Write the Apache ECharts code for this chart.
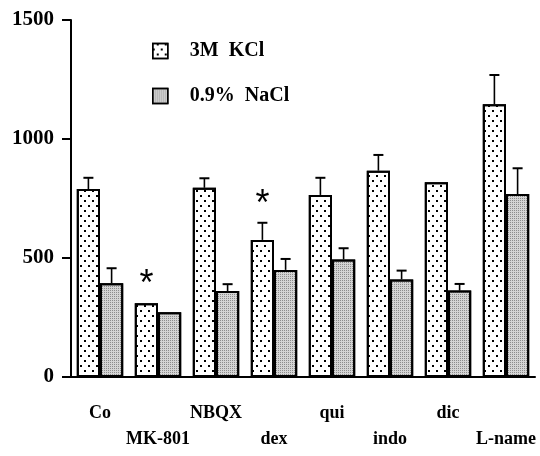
<!DOCTYPE html>
<html>
<head>
<meta charset="utf-8">
<title>KCl vs NaCl</title>
<script src="https://cdn.jsdelivr.net/npm/echarts@6/dist/echarts.min.js"></script>
<style>
html, body { margin: 0; padding: 0; background: #fff; }
#main { width: 540px; height: 456px; }
</style>
</head>
<body>
<div id="main"></div>
<script>
// data
var categories = ['Co', 'MK-801', 'NBQX', 'dex', 'qui', 'indo', 'dic', 'L-name'];
var kclValues  = [790, 310, 795, 576, 765, 867, 818, 1146];
var kclErrTop  = [837, null, 835, 648, 837, 933, null, 1269];
var naclValues = [394, 272, 361, 450, 494, 410, 363, 769];
var naclErrTop = [457, null, 390, 496, 541, 447, 391, 877];
var starAt     = [[1, 385], [3, 722]];   // significance marks over KCl bars
var yTicks     = [0, 500, 1000, 1500];

var serif = 'Liberation Serif';
var BAR_FRAC = 0.4;

function errData(vals, tops) {
  var out = [];
  for (var i = 0; i < vals.length; i++) {
    if (tops[i] != null) out.push([i, vals[i], tops[i]]);
  }
  return out;
}

// side: -1 = left bar (KCl), +1 = right bar (NaCl)
function errRenderer(side) {
  return function (params, api) {
    var band = api.size([1, 0])[0];
    var off = side * band * BAR_FRAC / 2;
    var p0 = api.coord([api.value(0), api.value(1)]);
    var p1 = api.coord([api.value(0), api.value(2)]);
    var x = p0[0] + off;
    return {
      type: 'group',
      children: [
        { type: 'line', shape: { x1: x, y1: p0[1], x2: x, y2: p1[1] },
          style: { stroke: '#000', lineWidth: 1.6 } },
        { type: 'line', shape: { x1: x - 5, y1: p1[1], x2: x + 5, y2: p1[1] },
          style: { stroke: '#000', lineWidth: 2 } }
      ]
    };
  };
}

// y-axis tick marks (the built-in ones did not show up in this setup)
function yTickRenderer(params, api) {
  var band = api.size([1, 0])[0];
  var p = api.coord([0, api.value(1)]);
  var xAxisPos = p[0] - band / 2;
  return {
    type: 'line',
    shape: { x1: xAxisPos - 9, y1: p[1], x2: xAxisPos, y2: p[1] },
    style: { stroke: '#000', lineWidth: 2 }
  };
}

var chart = echarts.init(document.getElementById('main'));

var option = {
  animation: false,
  grid: { left: 71, right: 5, top: 20, bottom: 79 },
  legend: {
    orient: 'vertical',
    left: 147, top: 36,
    icon: 'rect',
    itemWidth: 15, itemHeight: 15,
    itemGap: 25,
    data: ['3M  KCl', '0.9%  NaCl'],
    itemStyle: { borderColor: '#000', borderWidth: 1.5 },
    textStyle: { fontFamily: serif, fontWeight: 'bold', fontSize: 20, color: '#000', padding: [0, 0, 0, 17] }
  },
  xAxis: {
    type: 'category',
    data: categories,
    axisLine: { lineStyle: { color: '#000', width: 2 } },
    axisTick: { alignWithLabel: true, length: 10, lineStyle: { color: '#000', width: 1.5 } },
    axisLabel: {
      interval: 0,
      margin: 23,
      color: '#000',
      fontFamily: serif, fontWeight: 'bold', fontSize: 18,
      lineHeight: 26,
      formatter: function (v, i) { return i % 2 ? '\n' + v : v; }
    }
  },
  yAxis: {
    type: 'value',
    min: yTicks[0], max: yTicks[yTicks.length - 1], interval: 500,
    splitLine: { show: false },
    axisLine: { show: true, lineStyle: { color: '#000', width: 2 } },
    axisTick: { show: true, length: 9, lineStyle: { color: '#000', width: 2 } },
    axisLabel: {
      margin: 17, color: '#000', fontFamily: serif, fontWeight: 'bold', fontSize: 21,
      formatter: function (v) { return String(v); }
    }
  },
  series: [
    {
      name: '3M  KCl',
      type: 'bar',
      data: kclValues,
      barWidth: (BAR_FRAC * 100) + '%',
      barGap: '0%',
      itemStyle: {
        color: '#fff', borderColor: '#000', borderWidth: 2,
        decal: {
          symbol: 'rect', symbolSize: 1, color: '#000',
          dashArrayX: [[1.6, 5.4], [0, 3.5, 1.6, 1.9]],
          dashArrayY: [1.6, 2.9]
        }
      }
    },
    {
      name: '0.9%  NaCl',
      type: 'bar',
      data: naclValues,
      barWidth: (BAR_FRAC * 100) + '%',
      barGap: '0%',
      itemStyle: {
        color: '#d4d4d4', borderColor: '#000', borderWidth: 2,
        decal: {
          symbol: 'rect', symbolSize: 1, color: '#8c8c8c',
          dashArrayX: [1, 1],
          dashArrayY: [1, 1]
        }
      }
    },
    {
      type: 'custom',
      renderItem: errRenderer(-1),
      data: errData(kclValues, kclErrTop),
      encode: { x: 0, y: 1 },
      z: 5
    },
    {
      type: 'custom',
      renderItem: errRenderer(1),
      data: errData(naclValues, naclErrTop),
      encode: { x: 0, y: 1 },
      z: 5
    },
    {
      type: 'custom',
      data: starAt,
      encode: { x: 0, y: 1 },
      z: 5,
      renderItem: function (params, api) {
        var band = api.size([1, 0])[0];
        var p = api.coord([api.value(0), api.value(1)]);
        return {
          type: 'text',
          style: {
            x: p[0] - band * BAR_FRAC / 2, y: p[1],
            text: '*',
            fill: '#000',
            font: '36px "Liberation Sans"',
            align: 'center', verticalAlign: 'middle'
          }
        };
      }
    },
    {
      type: 'custom',
      data: yTicks.map(function (v) { return [0, v]; }),
      encode: { x: 0, y: 1 },
      clip: false,
      silent: true,
      z: 5,
      renderItem: yTickRenderer
    }
  ]
};

chart.setOption(option);
</script>
</body>
</html>
